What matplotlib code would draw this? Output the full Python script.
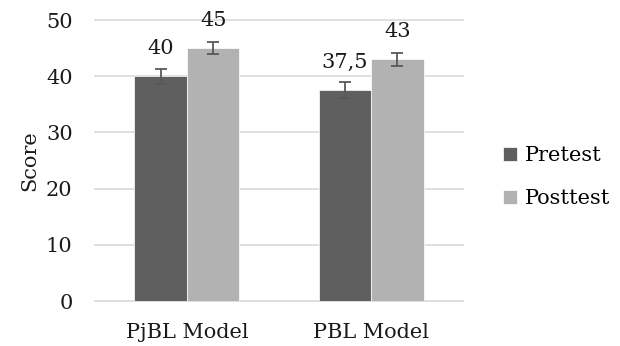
import numpy as np
import matplotlib
matplotlib.use('Agg')
import matplotlib.pyplot as plt

plt.rcParams['font.family'] = ['DejaVu Serif']
plt.rcParams['font.size'] = 15

# data
models = ['PjBL Model', 'PBL Model']
pretest = [40, 37.5]
posttest = [45, 43]
pre_err = [1.3, 1.4]
post_err = [1.1, 1.1]
pre_labels = ['40', '37,5']
post_labels = ['45', '43']

fig = plt.figure(figsize=(6.2, 3.46), dpi=100)
ax = fig.add_axes([0.153, 0.130, 0.594, 0.812])

x = np.arange(len(models))
w = 0.285
err_kw = dict(ecolor='#595959', elinewidth=1.3, capsize=4, capthick=1.3)

b1 = ax.bar(x - w / 2, pretest, w, color='#5f5f5f', edgecolor='white', linewidth=0.5,
            yerr=pre_err, error_kw=err_kw, label='Pretest', zorder=3)
b2 = ax.bar(x + w / 2, posttest, w, color='#b2b2b2', edgecolor='white', linewidth=0.5,
            yerr=post_err, error_kw=err_kw, label='Posttest', zorder=3)

for bars, labs in [(b1, pre_labels), (b2, post_labels)]:
    for rect, lab in zip(bars, labs):
        ax.annotate(lab, (rect.get_x() + rect.get_width() / 2, rect.get_height()),
                    xytext=(0, 13), textcoords='offset points',
                    ha='center', va='bottom', fontsize=15, color='#1a1a1a')

ax.set_xlim(-0.5, 1.5)
ax.set_ylim(0, 50)
ax.set_yticks(range(0, 51, 10))
ax.set_xticks(x)
ax.set_xticklabels(models)
ax.tick_params(axis='both', length=0, colors='#1a1a1a')
ax.tick_params(axis='y', pad=16)
ax.tick_params(axis='x', pad=16)
ax.yaxis.grid(True, color='#d9d9d9', linewidth=1.2, zorder=0)
ax.set_axisbelow(True)
for s in ax.spines.values():
    s.set_visible(False)
for gl in ax.get_ygridlines():
    gl.set_clip_on(False)

ax.set_ylabel('Score', color='#1a1a1a', labelpad=5)

fig.legend(handles=[b1, b2], labels=['Pretest', 'Posttest'],
           loc='center left', bbox_to_anchor=(0.795, 0.488), frameon=False,
           handlelength=0.65, handleheight=0.65, handletextpad=0.4,
           labelspacing=1.15, borderpad=0, fontsize=15)

plt.savefig('out.png', dpi=100)
